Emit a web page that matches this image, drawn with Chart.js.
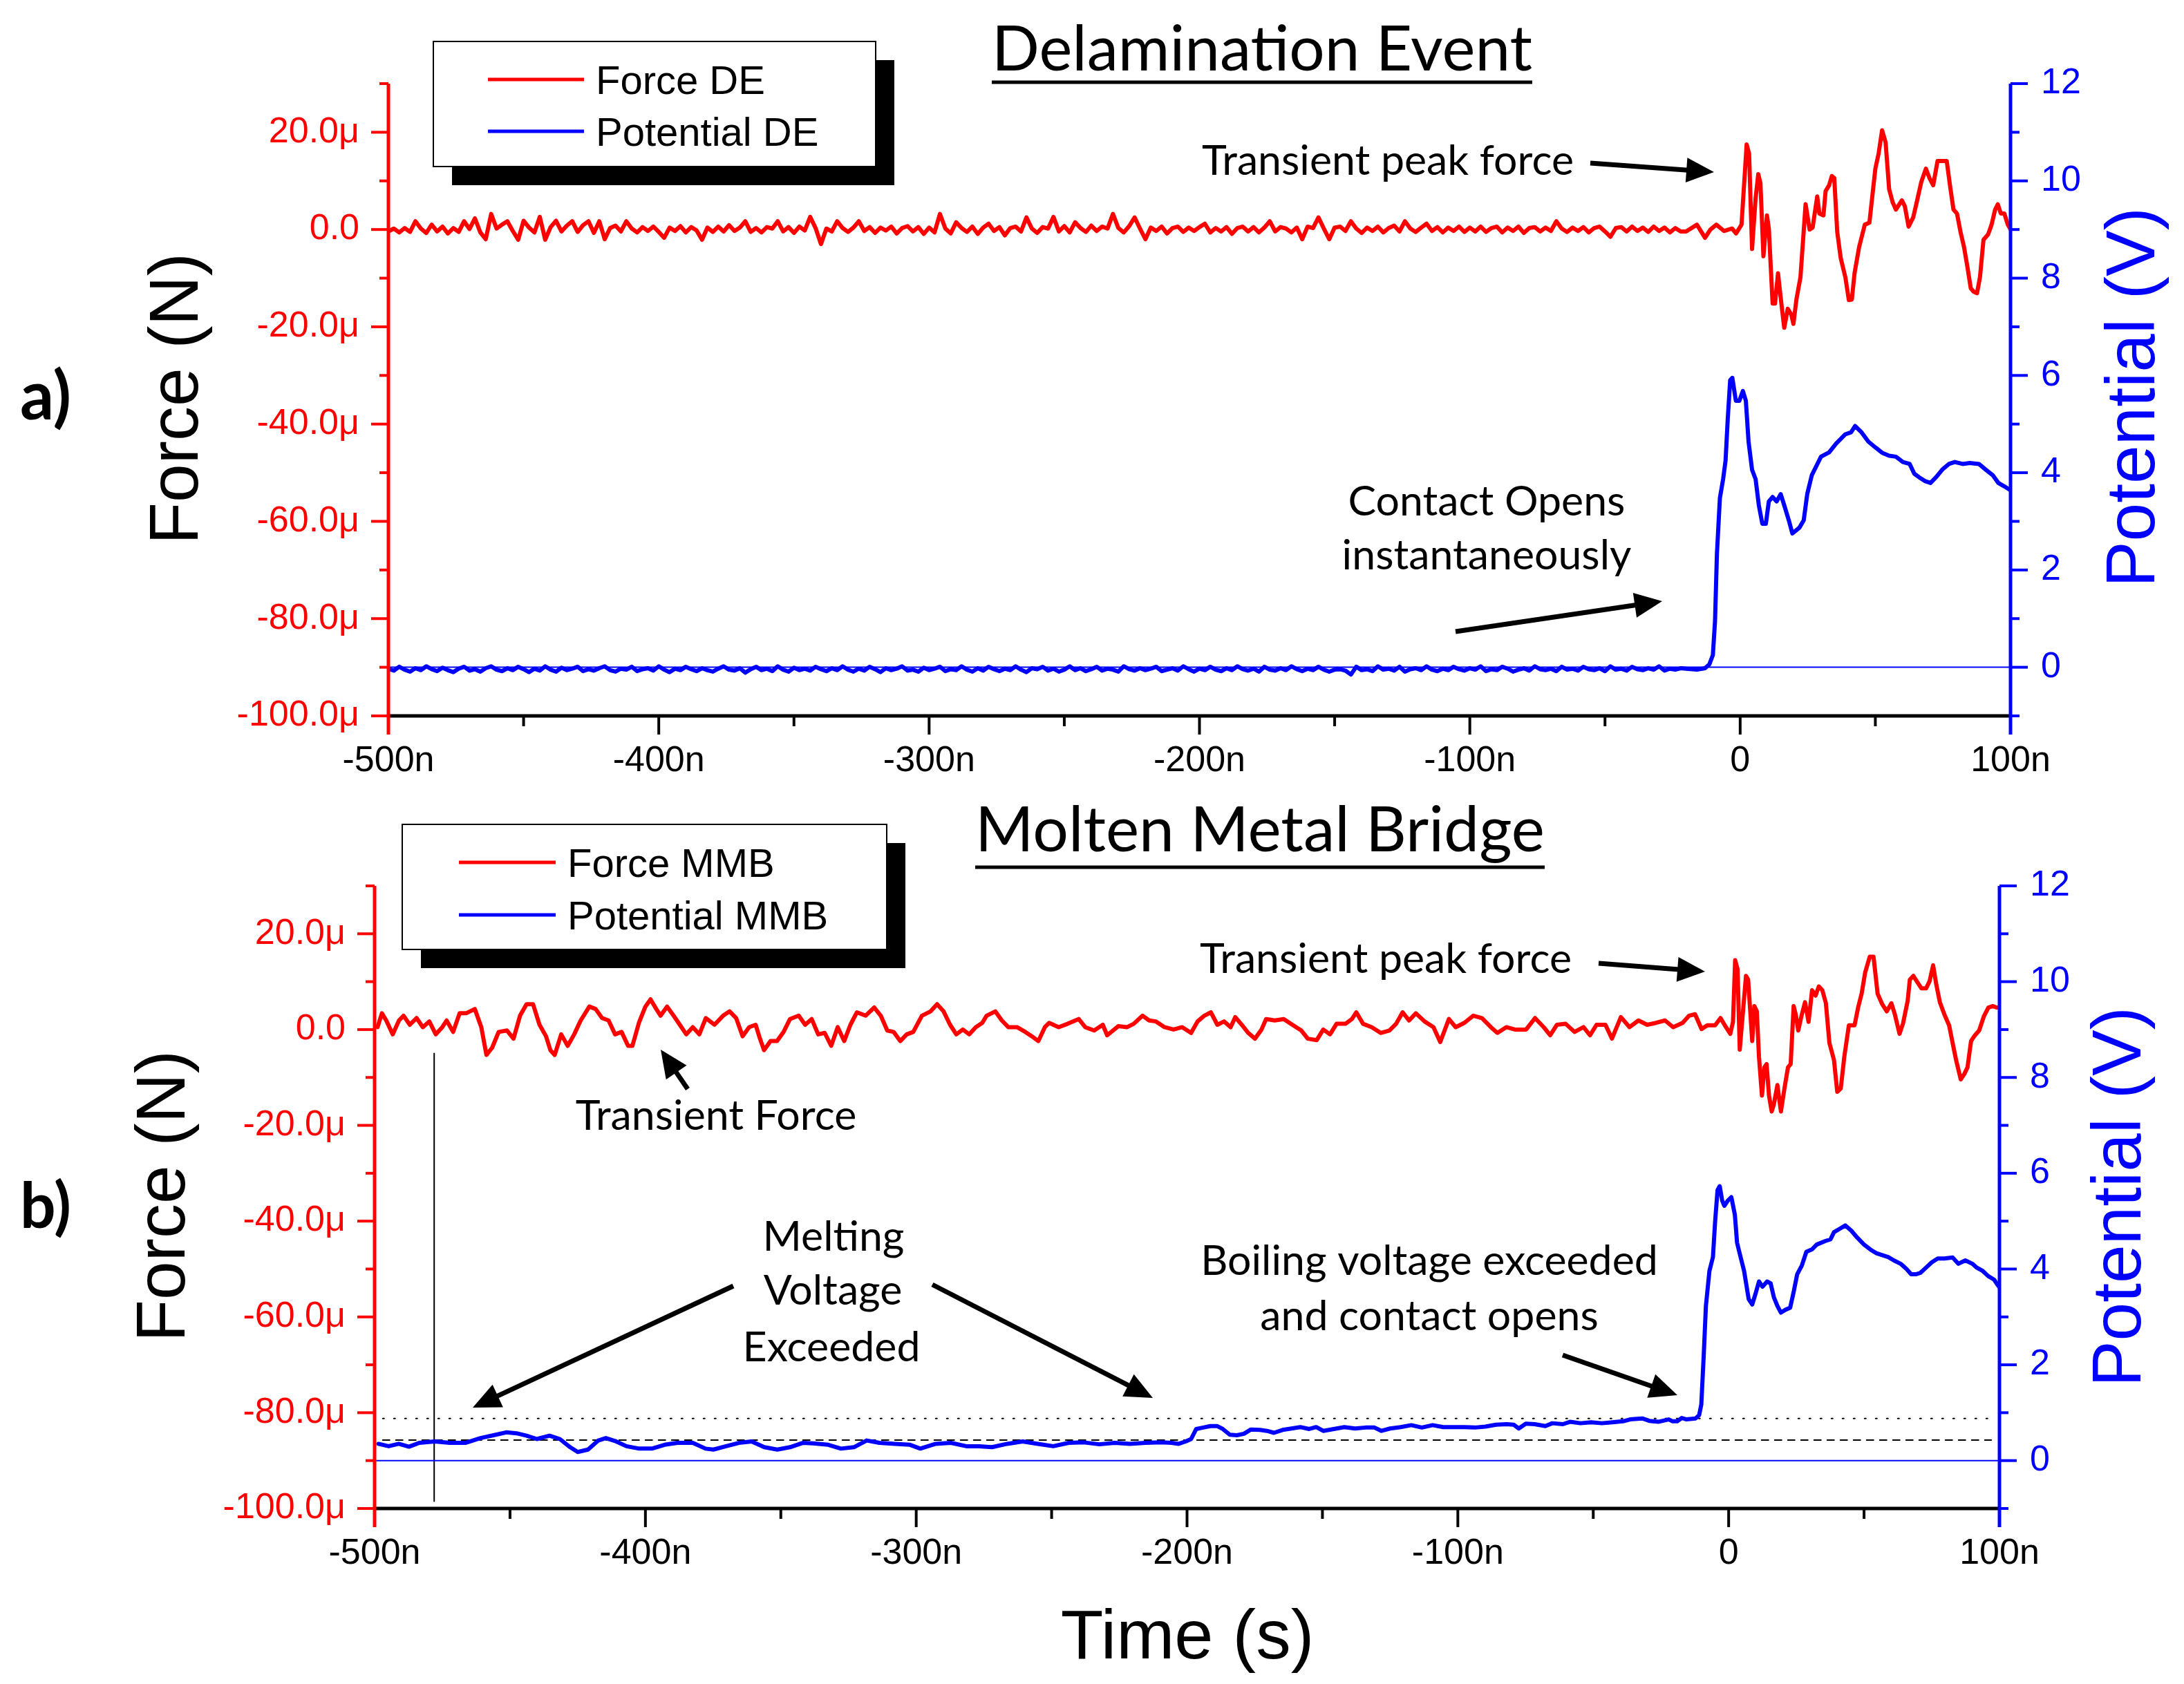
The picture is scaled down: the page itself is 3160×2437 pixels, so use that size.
<!DOCTYPE html>
<html><head><meta charset="utf-8">
<script src="https://cdn.jsdelivr.net/npm/chart.js@4/dist/chart.umd.min.js"></script>
<style>
html,body{margin:0;padding:0;background:#fff;}
#wrap{position:relative;width:3160px;height:2437px;background:#fff;}
canvas{position:absolute;left:0;}
</style></head><body>
<div id="wrap">
<canvas id="cA" width="3160" height="1150" style="top:0px"></canvas>
<canvas id="cB" width="3160" height="1287" style="top:1150px"></canvas>
</div>
<script>
// ---------- tick labels ----------
const xTickValues = [-500,-400,-300,-200,-100,0,100];
const xTickLabels = ['-500n','-400n','-300n','-200n','-100n','0','100n'];
const forceTickValues = [-100,-80,-60,-40,-20,0,20];
const forceTickLabels = ['-100.0μ','-80.0μ','-60.0μ','-40.0μ','-20.0μ','0.0','20.0μ'];
const potTickValues = [0,2,4,6,8,10,12];
const potTickLabels = ['0','2','4','6','8','10','12'];

// ---------- panel a: Delamination Event (time in ns, force in μN, potential in V) ----------
const timeBaseA = [-500,-498,-496,-494,-492,-490,-488,-486,-484,-482,-480,-478,-476,-474,-472,-470,-468,-466,-464,-462,
-460,-458,-456,-454,-452,-450,-448,-446,-444,-442,-440,-438,-436,-434,-432,-430,-428,-426,-424,-422,
-420,-418,-416,-414,-412,-410,-408,-406,-404,-402,-400,-398,-396,-394,-392,-390,-388,-386,-384,-382,
-380,-378,-376,-374,-372,-370,-368,-366,-364,-362,-360,-358,-356,-354,-352,-350,-348,-346,-344,-342,
-340,-338,-336,-334,-332,-330,-328,-326,-324,-322,-320,-318,-316,-314,-312,-310,-308,-306,-304,-302,
-300,-298,-296,-294,-292,-290,-288,-286,-284,-282,-280,-278,-276,-274,-272,-270,-268,-266,-264,-262,
-260,-258,-256,-254,-252,-250,-248,-246,-244,-242,-240,-238,-236,-234,-232,-230,-228,-226,-224,-222,
-220,-218,-216,-214,-212,-210,-208,-206,-204,-202,-200,-198,-196,-194,-192,-190,-188,-186,-184,-182,
-180,-178,-176,-174,-172,-170,-168,-166,-164,-162,-160,-158,-156,-154,-152,-150,-148,-146,-144,-142,
-140,-138,-136,-134,-132,-130,-128,-126,-124,-122,-120,-118,-116,-114,-112,-110,-108,-106,-104,-102,
-100,-98,-96,-94,-92,-90,-88,-86,-84,-82,-80,-78,-76,-74,-72,-70,-68,-66,-64,-62,
-60,-58,-56,-54,-52,-50,-48,-46,-44,-42,-40,-38,-36,-34,-32,-30,-28,-26,-24,-22];
const forceBaseA = [-0.4,0.2,-0.6,0.3,-0.5,1.7,0.2,-0.7,1.0,-0.4,0.6,-0.8,0.3,-0.5,1.7,0.1,2.3,-0.6,-2.0,3.2,
0.2,1.0,1.7,-0.3,-2.1,1.8,0.4,-0.6,2.6,-2.1,0.5,1.8,-0.4,0.8,1.7,-0.5,0.9,1.7,-0.7,1.7,
-2.0,0.3,0.8,-0.4,1.7,0.2,-0.6,0.5,-0.3,0.6,-0.5,-1.7,0.4,-0.3,0.7,-0.6,0.5,-0.2,-2.1,0.4,
-0.5,0.6,-0.4,0.9,-0.3,0.4,1.7,-0.5,0.3,-0.6,0.5,0.2,1.7,-0.4,0.5,-0.7,0.6,-0.2,2.6,0.3,
-3.0,0.2,-0.4,1.7,0.3,-0.5,0.4,1.7,-0.3,0.5,-0.7,0.4,-0.2,0.6,-0.8,0.3,0.7,-0.4,0.5,-0.9,
0.4,-0.6,3.2,0.2,-0.8,1.5,0.3,-0.5,0.6,-0.9,0.4,1.2,-0.3,0.5,-1.2,0.3,0.6,-0.4,2.5,0.2,
-0.7,0.5,0.2,2.6,-0.4,0.7,-0.6,1.5,0.3,-0.5,0.8,-0.3,0.6,0.2,3.2,0.3,-0.6,0.7,2.5,0.2,
-2.0,0.4,-0.3,0.6,-0.8,0.3,0.6,-0.5,0.4,-0.3,0.5,1.2,-0.6,0.3,-0.4,0.5,-0.9,0.3,0.6,-0.4,
0.5,-0.6,0.4,1.7,-0.4,0.5,0.2,-0.6,0.4,-2.0,0.6,0.3,2.5,0.2,-2.0,0.4,0.6,-0.3,1.7,0.2,
-0.7,0.4,-0.3,0.6,-0.6,0.3,0.8,-0.4,1.7,0.2,-0.5,0.4,1.2,-0.3,0.5,-0.6,0.4,-0.3,0.6,-0.5,
0.4,-0.4,0.6,-0.5,0.3,0.6,-0.6,0.4,-0.3,0.6,-0.7,0.3,0.5,-0.4,0.4,-0.3,1.7,0.2,-0.5,0.4,
-0.3,0.5,-0.6,0.3,0.6,-0.4,-1.5,0.3,0.5,-0.4,0.6,-0.3,0.4,-0.5,0.6,-0.3,0.4,-0.6,0.3,-0.4];
const potBaseA = [-0.03,-0.07,0.01,-0.05,-0.09,-0.02,-0.06,0.02,-0.04,-0.08,-0.01,-0.06,-0.10,-0.03,0.01,-0.07,-0.04,-0.09,-0.02,0.02,
-0.05,-0.08,-0.02,-0.06,0.01,-0.04,-0.10,-0.03,-0.07,0.02,-0.05,-0.09,-0.01,-0.06,-0.03,0.01,-0.08,-0.04,-0.07,-0.02,
0.02,-0.06,-0.09,-0.03,-0.05,0.01,-0.08,-0.04,-0.02,-0.07,0.02,-0.05,-0.10,-0.03,-0.06,0.01,-0.04,-0.08,-0.02,-0.06,
-0.09,-0.03,0.02,-0.05,-0.07,-0.02,-0.11,-0.04,0.01,-0.06,-0.03,-0.08,0.02,-0.05,-0.09,-0.01,-0.06,-0.03,-0.07,0.01,
-0.04,-0.08,-0.02,-0.06,0.02,-0.05,-0.09,-0.03,-0.07,0.01,-0.04,-0.10,-0.02,-0.06,-0.03,0.02,-0.07,-0.05,-0.09,-0.01,
-0.06,-0.03,0.01,-0.08,-0.04,-0.06,0.02,-0.05,-0.09,-0.02,-0.07,0.01,-0.04,-0.08,-0.03,-0.06,0.02,-0.05,-0.10,-0.02,
-0.04,0.01,-0.07,-0.03,-0.09,-0.05,0.02,-0.06,-0.02,-0.08,-0.04,0.01,-0.07,-0.03,-0.05,-0.09,0.02,-0.04,-0.07,-0.02,
-0.06,-0.03,0.01,-0.08,-0.05,-0.02,-0.07,0.02,-0.04,-0.09,-0.03,-0.06,0.01,-0.05,-0.08,-0.02,-0.06,0.02,-0.04,-0.07,
-0.03,-0.09,0.01,-0.05,-0.07,-0.02,-0.06,0.02,-0.04,-0.08,-0.03,-0.06,0.01,-0.05,-0.09,-0.05,-0.04,-0.07,-0.15,0.01,
-0.06,-0.04,-0.08,0.02,-0.05,-0.03,-0.07,0.01,-0.09,-0.04,-0.02,-0.06,0.02,-0.05,-0.08,-0.03,-0.06,0.01,-0.04,-0.07,
-0.02,-0.05,0.02,-0.08,-0.04,-0.06,0.01,-0.03,-0.09,-0.05,-0.02,-0.07,0.02,-0.04,-0.06,-0.03,-0.08,0.01,-0.05,-0.03,
-0.07,0.01,-0.04,-0.06,-0.02,-0.08,0.02,-0.05,-0.03,-0.07,0.01,-0.04,-0.06,-0.02,-0.05,0.02,-0.07,-0.03,-0.05,-0.02];
const timePostForceA = [-20,-16,-13,-11,-8.8,-6,-3,-1.5,0.5,
2.4,3.3,4.4,5.7,6.7,7.5,8.6,9.9,10.6,
12,12.9,14,14.9,16.3,17.6,18.9,19.7,20.8,22.3,
24.2,25.7,26.8,28.5,29.3,30.8,31.6,32.9,33.9,34.8,
35.9,37.2,38.9,40.2,41.3,42.3,44,46.1,47.8,50,
51.2,52.5,53.8,55.1,56.4,57.6,59.8,60.9,62.3,64,
65.3,67,68.7,70,71.4,73,76.4,77.7,78.9,80.2,
81.5,82.8,84,85.3,86.4,87.6,88.7,90,91.7,93,
94.3,95.3,96.4,97.7,99,100];
const forcePostA = [-0.4,1.0,-1.7,0,1.0,-0.3,0.2,-0.8,1.0,
17.5,15.6,-4.0,6.4,11.4,9.5,-5.5,2.9,0.2,
-15.2,-15.2,-9.0,-13.6,-20.2,-16.3,-17.5,-19.4,-14.4,-9.8,
5.2,0,0.4,6.8,3.3,2.9,7.9,9.1,11.0,10.6,
-0.5,-5.9,-9.8,-14.5,-14.4,-9.0,-3.6,1.0,1.4,12.5,
15.6,20.4,17.9,8.3,5.6,4.1,6.0,4.8,0.6,2.5,
5.6,9.8,12.5,10.6,9.1,14.1,14.1,8.7,4.1,3.3,
-0.5,-3.6,-7.5,-12.1,-12.8,-13.1,-9.8,-2.1,-1.0,1.0,
4.1,5.2,3.3,3.3,1.0,0];
const timePostPotA = [-20,-16,-13,-11.4,-10.1,-9.3,-8.6,-7.5,-6.3,-5.4,
-4.6,-3.7,-2.9,-1.6,-0.3,1.0,2.1,3.1,4.4,5.7,
6.9,8.2,9.5,10.6,12.0,13.5,15.0,16.3,18.0,19.3,
21.9,23.5,24.8,26.5,28.2,29.9,32.9,35.5,38.9,41.0,
42.5,44.9,47.4,50.0,52.5,55.1,57.6,60.2,62.7,64.4,
66.1,68.3,70.4,72.5,74.7,77.2,79.4,82.3,84.9,88.3,
90.9,93.4,95.5,97.7,100];
const potPostA = [-0.03,-0.05,-0.02,0.06,0.25,0.95,2.33,3.48,3.87,4.25,
5.1,5.9,5.95,5.48,5.48,5.68,5.48,4.64,4.06,3.87,
3.33,2.95,2.95,3.41,3.5,3.41,3.56,3.33,3.02,2.75,
2.87,3.02,3.56,3.95,4.14,4.33,4.42,4.6,4.79,4.83,
4.96,4.83,4.64,4.52,4.41,4.35,4.33,4.22,4.18,3.98,
3.91,3.83,3.79,3.91,4.06,4.18,4.22,4.18,4.2,4.18,
4.06,3.95,3.79,3.72,3.64];

// ---------- panel b: Molten Metal Bridge ----------
const timeForceB = [-498.9,-497.3,-495.7,-493.3,-491,-489.3,-487,-484.5,-482.2,-479.8,
-477.4,-475,-473.4,-471,-468.6,-466.2,-463,-460.6,-458.7,-456.6,
-454.2,-451.1,-448.7,-446.3,-443.9,-441.5,-439.1,-436.7,-435.1,-433.5,
-431.1,-428.7,-426.3,-423.9,-420.7,-418.4,-416,-413.6,-411.2,-408.8,
-406.4,-404.8,-402.4,-400,-398.1,-396,-394.4,-392,-389.6,-387.3,
-384.9,-382.5,-380.1,-377.7,-374.5,-371.3,-368.9,-366.5,-364.1,-361.7,
-359.3,-357.7,-356.2,-353.8,-351.4,-349,-346.6,-343.4,-341,-338.6,
-336.2,-333.8,-331.4,-329,-326.6,-324.3,-321.9,-318.7,-315.5,-313.1,
-310.7,-308.3,-305.9,-303.5,-301.1,-297.9,-294.7,-292.3,-289.9,-287.5,
-285.2,-282.8,-280.4,-278,-275.6,-274,-270.8,-268.4,-266,-262.8,
-259.7,-257.3,-254.9,-252.5,-250.9,
-247.4,-244.1,-240,-237.6,-234.3,-231.1,-229.5,-225.4,-222.1,-219.7,
-216.4,-214,-211.5,-208.3,-205,-201.8,-198.5,-196.1,-193.6,-191.2,
-188.8,-186.3,-183.9,-182.2,-179.8,-177.4,-174.9,-172.5,-170.8,-167.6,
-164.3,-161.1,-157.8,-155.4,-152.1,-149.7,-147.2,-144.8,-141.5,-139.1,
-137.5,-135,-131.8,-128.5,-125.3,-122.8,-120.4,-118,-115.5,-112.3,
-109,-106.5,-103.3,-100.8,-97.6,-94.3,-91.1,-87.8,-85.4,-82.1,
-78.9,-74.8,-71.5,-68.3,-65.9,-63.4,-60.2,-56.9,-53.6,-51.2,
-48.8,-45.5,-43.1,-39.8,-36.6,-33.3,-30.1,-26.8,-23.5,
-20.5,-17,-14.6,-12.4,-10,-7.9,-5,-3,-1,0.6,
1.6,2.4,3.3,4.1,5.3,6.4,7.2,8.7,9.5,10.4,
11.2,12.3,13.2,14,14.9,15.9,16.7,18,19.3,20.6,
21.9,22.9,24,24.8,25.7,27,28.2,29.5,30.8,32.1,
33.3,34.6,35.9,37.2,38.9,40.1,41.4,42.7,44.4,46.5,
47.8,49.1,50.4,52.1,53.5,55,56.7,58.4,60.1,61.4,
63.1,64.4,66.1,66.9,68.2,69.9,71.2,72.9,74.2,75.5,
76.7,78,79.7,81.4,82.7,84,85.7,87,88.2,89.5,
90.8,92.5,94.2,95.9,97.6,98.9,100];
const forceB = [0.5,3.4,1.9,-1,1.9,2.9,1,2.4,0.5,1.7,
-1,0.5,1.9,-0.5,3.4,3.4,4.3,0.5,-5.3,-3.8,
-0.5,-0.2,-1.9,2.9,5.3,5.3,1,-1.4,-4.3,-5.3,
-1,-3.4,-1,1.9,4.8,4.3,2.4,1.9,-1,-0.5,
-3.4,-3.4,1.4,4.8,6.3,4.3,2.9,4.8,2.9,1,
-1,0.5,-1,2.4,1,2.9,3.8,2.4,-1.4,0.5,
1,-1.9,-4.3,-2.4,-2.4,-0.5,2.2,2.9,1,2.2,
-1,-0.7,-3.4,0.5,-2.4,1,3.6,2.9,4.6,2.9,
-0.2,-0.5,-2.4,-1,-0.5,2.9,3.8,5.3,3.8,1,
-1,0,-1,0.5,1.4,2.9,3.8,1.9,0.5,0.5,
-0.5,-1.4,-2.4,0.5,1.4,
0.5,1.2,2.2,0.5,-0.2,1,-1.2,0.7,0.5,1.2,
2.9,1.9,1.7,0.5,0,0.5,-0.7,1.7,2.9,3.6,
1,1.7,0.5,2.6,1,-0.7,-1.9,0,2.2,1.9,
2.2,1,-0.2,-1.9,-2.2,0,-1,1.2,1.2,2.2,
3.6,1.2,0.5,-0.7,-0.2,1.2,3.6,1.9,3.4,1.7,
0.5,-2.6,2.2,0.5,1.4,2.9,2.4,0.5,-0.7,0.5,
0,0,2.4,0.5,-1.2,1,1.2,-0.5,0.5,-1.2,
1,1,-1.9,2.6,0.5,1.9,1,1.4,1.9,
0.5,1.4,2.9,3.2,0.1,0.9,0.9,2.4,0.5,-0.9,
1.6,14.5,12.6,-4.2,3.8,11.2,10.4,-2.4,4.9,3.8,
-5.7,-13.8,-7.9,-7.2,-13.8,-17.1,-15.6,-11.6,-17.1,-12.3,
-7.9,-7.2,4.9,3.1,-0.2,3.1,5.7,1.6,8.2,7.1,
9,8.2,5.5,-2.8,-6.4,-13,-12.3,-5.7,0.9,0.9,
4.6,7.5,11.9,15.2,15.2,7.5,5.3,3.8,5.5,3.1,
-0.9,1.3,6,10.4,11.2,9.7,8.6,8.6,10.1,13.4,
9.3,5.7,3.1,0.9,-2.8,-6.4,-10.4,-9.3,-7.9,-2.4,
-1.3,-0.2,2.7,4.6,4.9,4.6,4.6];
const timePotB = [-498.6,-494.8,-491.1,-487.3,-483.5,-477.8,-472.2,-466.5,-460.9,-455.2,
-451.4,-447.6,-443.9,-440.1,-435.4,-431.6,-427.8,-425,-421.2,-417.4,
-414.6,-410.8,-407,-402.3,-397.6,-392.9,-388.2,-382.5,-377.8,-374.9,
-370.2,-365.5,-360.8,-356.1,-351.3,-346.6,-341.9,-338.1,-332.5,-327.8,
-323,-318.3,-313.6,-307.9,-302.3,-298.5,-292.8,-287.2,-281.5,-276.8,
-272,-266.4,-260.7,-255.1,-249.4,-243.7,-238.1,-232.4,-226.7,-221.1,
-215.4,
-209.6,-205.7,-203.1,-200.5,-198.5,-196.6,-194,-191.4,-188.8,-186.8,
-184.2,-181.6,-179,-176.4,-173.1,-170.5,-167.9,-164.7,-161.4,-158.2,
-154.9,-152.3,-149.7,-145.8,-141.9,-138,-134.1,-130.8,-128.2,-125,
-121.1,-117.2,-113.3,-109.3,-105.4,-101.5,-97.6,-93.7,-89.8,-85.9,
-82,-79.4,-77.5,-74.9,-71.6,-67.7,-65.1,-61.2,-58.6,-54.7,
-50.8,-46.8,-42.9,-39,-36.4,-31.9,-29.3,-26,-22.1,
-20.7,-19,-17.3,-15.6,-12.2,-10.9,-10.1,-9.2,-8.4,-7.1,
-5.8,-5,-4.1,-3.3,-2.4,-1.6,-0.3,1,2.3,3.1,
4.4,5.7,7.4,8.7,9.9,11.2,12.5,14.2,15.5,16.7,
18,19.3,21,22.7,24,25.3,27,28.7,30.8,32.5,
35.5,37.6,38.9,41,43.1,45.3,47.4,50,52.5,54.6,
56.7,58.9,61,63.5,65.7,67.4,69.1,70.8,72.9,75,
77.2,79.7,82.7,84.8,87.4,90,91.6,93.8,95.9,98,
99.3,100];
const potB = [0.35,0.30,0.35,0.29,0.37,0.40,0.37,0.37,0.47,0.54,
0.59,0.57,0.52,0.45,0.52,0.45,0.28,0.18,0.23,0.42,
0.47,0.40,0.30,0.25,0.25,0.33,0.37,0.37,0.25,0.23,
0.30,0.37,0.40,0.28,0.23,0.28,0.37,0.36,0.33,0.25,
0.28,0.42,0.37,0.35,0.33,0.25,0.35,0.37,0.30,0.30,
0.28,0.35,0.40,0.35,0.30,0.37,0.38,0.34,0.37,0.35,
0.37,
0.38,0.37,0.35,0.40,0.45,0.66,0.69,0.72,0.72,0.66,
0.54,0.53,0.56,0.65,0.64,0.62,0.58,0.64,0.67,0.70,
0.66,0.70,0.62,0.66,0.70,0.67,0.69,0.69,0.62,0.67,
0.70,0.74,0.69,0.74,0.70,0.70,0.70,0.69,0.71,0.75,
0.76,0.75,0.67,0.77,0.76,0.72,0.78,0.76,0.81,0.78,
0.80,0.78,0.80,0.82,0.86,0.88,0.83,0.81,0.86,
0.82,0.82,0.89,0.86,0.88,0.95,1.17,2.2,3.23,3.96,
4.25,4.99,5.65,5.73,5.43,5.32,5.43,5.5,5.13,4.55,
4.25,3.96,3.37,3.26,3.48,3.74,3.63,3.74,3.7,3.41,
3.23,3.09,3.15,3.19,3.52,3.89,4.07,4.36,4.41,4.51,
4.58,4.62,4.77,4.84,4.91,4.8,4.66,4.51,4.4,4.33,
4.29,4.25,4.18,4.11,4,3.89,3.89,3.92,4.03,4.14,
4.22,4.22,4.24,4.11,4.18,4.11,4.03,3.96,3.85,3.78,
3.67,3.62];

// ---------- reference lines ----------
const zeroLineT = [-500, 100];
const zeroLineV = [0, 0];
const levelT = [-497, 97];
const meltLevelV = [0.43, 0.43];
const boilLevelV = [0.88, 0.88];
const markerT = [-478, -478];
const markerV = [-0.85, 8.5];

// ---------- helpers ----------
const RED = '#ff0000', BLUE = '#0000ff';
const ARIAL = '"Liberation Sans", Arial, sans-serif';
const CAL = 'Lato, "Open Sans", sans-serif';
const pts = (ts, vs) => ts.map((t, i) => ({x: t, y: vs[i]}));
const lab = (vals, labs) => v => { const i = vals.indexOf(Math.round(v)); return i >= 0 ? labs[i] : ''; };

function fitSize(ctx, text, family, weight, target) {
  ctx.font = weight + ' 100px ' + family;
  return 100 * target / ctx.measureText(text).width;
}
function arrow(ctx, x1, y1, x2, y2) {
  const a = Math.atan2(y2 - y1, x2 - x1), hl = 40, hw = 18;
  const bx = x2 - hl * Math.cos(a), by = y2 - hl * Math.sin(a);
  ctx.strokeStyle = '#000'; ctx.lineWidth = 7; ctx.lineCap = 'butt';
  ctx.beginPath(); ctx.moveTo(x1, y1); ctx.lineTo(bx + 2 * Math.cos(a), by + 2 * Math.sin(a)); ctx.stroke();
  ctx.fillStyle = '#000'; ctx.beginPath(); ctx.moveTo(x2, y2);
  ctx.lineTo(bx + hw * Math.sin(a), by - hw * Math.cos(a));
  ctx.lineTo(bx - hw * Math.sin(a), by + hw * Math.cos(a));
  ctx.closePath(); ctx.fill();
}
function seg(ctx, x1, y1, x2, y2, c, w) {
  ctx.strokeStyle = c; ctx.lineWidth = w; ctx.beginPath(); ctx.moveTo(x1, y1); ctx.lineTo(x2, y2); ctx.stroke();
}
function vText(ctx, text, x, y, color) {
  ctx.save(); ctx.translate(x, y); ctx.rotate(-Math.PI / 2);
  ctx.font = '100px ' + ARIAL; ctx.fillStyle = color; ctx.textAlign = 'center'; ctx.textBaseline = 'alphabetic';
  ctx.fillText(text, 0, 0); ctx.restore();
}

function decor(g) {
  return {
    id: 'decor',
    afterDraw(chart) {
      const ctx = chart.ctx;
      const {left, right, top, bottom} = chart.chartArea;
      const sx = chart.scales.x, sF = chart.scales.yF, sV = chart.scales.yV;
      ctx.save();
      ctx.lineCap = 'butt';
      sx.ticks.forEach(t => {
        const px = sx.getPixelForValue(t.value);
        const major = Math.round(t.value) % 100 === 0;
        seg(ctx, px, bottom, px, bottom + (major ? 27 : 15), '#000', 4);
      });
      sF.ticks.forEach(t => {
        const py = sF.getPixelForValue(t.value);
        const major = Math.round(t.value) % 20 === 0;
        seg(ctx, left, py, left - (major ? 25 : 13), py, RED, 4);
      });
      sV.ticks.forEach(t => {
        const py = sV.getPixelForValue(t.value);
        const major = Math.round(t.value) % 2 === 0;
        seg(ctx, right, py, right + (major ? 25 : 13), py, BLUE, 4);
      });
      seg(ctx, left - 2, bottom, right + 2, bottom, '#000', 5);
      seg(ctx, left, top, left, bottom + 27, RED, 5);
      seg(ctx, right, top, right, bottom + 27, BLUE, 5);

      vText(ctx, 'Force (N)', g.fTitle[0], g.fTitle[1], '#000');
      vText(ctx, 'Potential (V)', g.vTitle[0], g.vTitle[1], BLUE);
      if (g.xTitle) {
        ctx.font = '101px ' + ARIAL; ctx.fillStyle = '#000'; ctx.textAlign = 'center'; ctx.textBaseline = 'alphabetic';
        ctx.fillText(g.xTitle[0], g.xTitle[1], g.xTitle[2]);
      }
      const ls = fitSize(ctx, g.letter[0], CAL, 'bold', 74);
      ctx.font = 'bold ' + ls + 'px ' + CAL; ctx.fillStyle = '#000'; ctx.textAlign = 'left';
      ctx.fillText(g.letter[0], g.letter[1], g.letter[2]);
      const ts = fitSize(ctx, g.title[0], CAL, 'normal', g.title[3]);
      ctx.font = ts + 'px ' + CAL; ctx.textAlign = 'center';
      ctx.fillText(g.title[0], g.title[1], g.title[2]);
      seg(ctx, g.title[1] - g.title[3] / 2, g.title[4], g.title[1] + g.title[3] / 2, g.title[4], '#000', 5);

      const L = g.legend;
      ctx.fillStyle = '#000'; ctx.fillRect(L.x + 27, L.y + 27, L.w, L.h);
      ctx.fillStyle = '#fff'; ctx.fillRect(L.x, L.y, L.w, L.h);
      ctx.strokeStyle = '#000'; ctx.lineWidth = 2; ctx.strokeRect(L.x, L.y, L.w, L.h);
      ctx.font = '58px ' + ARIAL; ctx.textAlign = 'left'; ctx.textBaseline = 'alphabetic';
      [0, 1].forEach(i => {
        const ds = chart.data.datasets[i];
        seg(ctx, L.lx1, L.ys[i], L.lx2, L.ys[i], ds.borderColor, 5);
        ctx.fillStyle = '#000';
        ctx.fillText(ds.label, L.tx, L.ys[i] + 21);
      });

      const ns = fitSize(ctx, 'Transient peak force', CAL, 'normal', 538);
      ctx.font = ns + 'px ' + CAL; ctx.fillStyle = '#000'; ctx.textAlign = 'center';
      g.notes.forEach(n => ctx.fillText(n[0], n[1], n[2]));
      g.arrows.forEach(a => arrow(ctx, a[0], a[1], a[2], a[3]));
      ctx.restore();
    }
  };
}

function makeChart(id, g, datasets) {
  const c = document.getElementById(id);
  const W = c.width, H = c.height;
  return new Chart(c.getContext('2d'), {
    type: 'line',
    data: {datasets},
    options: {
      animation: false, responsive: false, devicePixelRatio: 1, events: [],
      layout: {padding: {top: g.area[2], left: 0, right: 0, bottom: 0}},
      elements: {point: {radius: 0}, line: {tension: 0, borderJoinStyle: 'round', borderCapStyle: 'round'}},
      plugins: {legend: {display: false}, tooltip: {enabled: false}},
      scales: {
        x: {type: 'linear', position: 'bottom', min: -500, max: 100,
            grid: {display: false, drawTicks: false}, border: {display: false},
            ticks: {stepSize: 50, autoSkip: false, maxRotation: 0, padding: 34, color: '#000',
                    font: {family: ARIAL, size: 52}, callback: lab(xTickValues, xTickLabels)},
            afterFit: s => { s.height = H - g.area[3]; }},
        yF: {type: 'linear', position: 'left', min: -100, max: 30,
            grid: {display: false, drawTicks: false}, border: {display: false},
            ticks: {stepSize: 10, autoSkip: false, padding: 42, color: RED,
                    font: {family: ARIAL, size: 52}, callback: lab(forceTickValues, forceTickLabels)},
            afterFit: s => { s.width = g.area[0]; }},
        yV: {type: 'linear', position: 'right', min: -1, max: 12,
            grid: {display: false, drawTicks: false}, border: {display: false},
            ticks: {stepSize: 1, autoSkip: false, padding: 44, color: BLUE,
                    font: {family: ARIAL, size: 52}, callback: lab(potTickValues, potTickLabels)},
            afterFit: s => { s.width = W - g.area[1]; }}
      }
    },
    plugins: [decor(g)]
  });
}

const geoA = {
  area: [562, 2909, 121, 1036],
  title: ['Delamination Event', 1826, 102, 782, 119],
  letter: ['a)', 29, 607],
  fTitle: [286, 577], vTitle: [3117, 575],
  legend: {x: 627, y: 60, w: 640, h: 181, lx1: 706, lx2: 845, tx: 862, ys: [115, 190]},
  notes: [['Transient peak force', 2008, 253], ['Contact Opens', 2151, 746], ['instantaneously', 2151, 824]],
  arrows: [[2301, 236, 2480, 249], [2106, 914, 2405, 870]]
};
const geoB = {
  area: [542, 2893, 132, 1033],
  title: ['Molten Metal Bridge', 1823, 82, 824, 105],
  letter: ['b)', 29, 627],
  fTitle: [267, 581], vTitle: [3097, 582],
  xTitle: ['Time (s)', 1718, 1250],
  legend: {x: 582, y: 43, w: 701, h: 181, lx1: 664, lx2: 804, tx: 821, ys: [98, 174]},
  notes: [['Transient peak force', 2005, 258], ['Transient Force', 1036, 485], ['Melting', 1206, 660],
          ['Voltage', 1205, 738], ['Exceeded', 1203, 820], ['Boiling voltage exceeded', 2068, 695],
          ['and contact opens', 2068, 775]],
  arrows: [[2313, 244, 2467, 256], [995, 426, 956, 369], [1061, 711, 684, 887], [1349, 709, 1668, 873], [2261, 811, 2427, 869]]
};

makeChart('cA', geoA, [
  {label: 'Force DE', data: pts(timeBaseA.concat(timePostForceA), forceBaseA.concat(forcePostA)), yAxisID: 'yF', borderColor: RED, borderWidth: 6},
  {label: 'Potential DE', data: pts(timeBaseA.concat(timePostPotA), potBaseA.concat(potPostA)), yAxisID: 'yV', borderColor: BLUE, borderWidth: 6},
  {label: 'zero', data: pts(zeroLineT, zeroLineV), yAxisID: 'yV', borderColor: BLUE, borderWidth: 2}
]);
makeChart('cB', geoB, [
  {label: 'Force MMB', data: pts(timeForceB, forceB), yAxisID: 'yF', borderColor: RED, borderWidth: 6},
  {label: 'Potential MMB', data: pts(timePotB, potB), yAxisID: 'yV', borderColor: BLUE, borderWidth: 6},
  {label: 'zero', data: pts(zeroLineT, zeroLineV), yAxisID: 'yV', borderColor: BLUE, borderWidth: 2},
  {label: 'boiling', data: pts(levelT, boilLevelV), yAxisID: 'yV', borderColor: '#000', borderWidth: 2, borderDash: [2, 14]},
  {label: 'melting', data: pts(levelT, meltLevelV), yAxisID: 'yV', borderColor: '#000', borderWidth: 2, borderDash: [10, 9]},
  {label: 'marker', data: pts(markerT, markerV), yAxisID: 'yV', borderColor: '#000', borderWidth: 2}
]);
</script>
</body></html>
